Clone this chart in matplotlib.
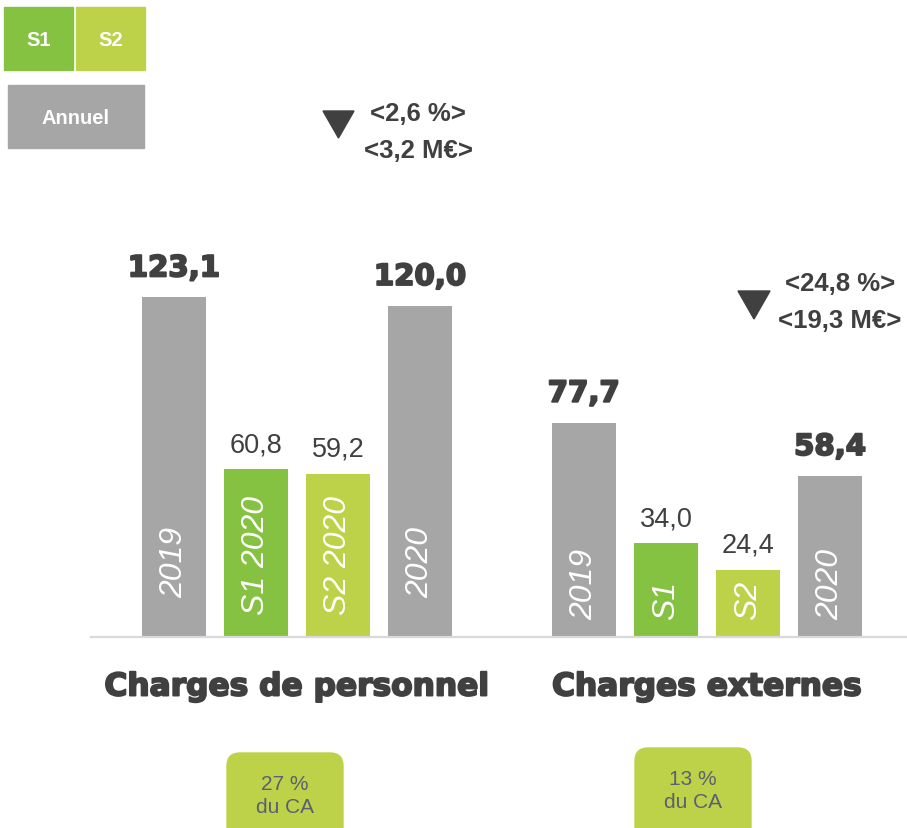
import matplotlib
matplotlib.use('Agg')

import matplotlib.pyplot as plt
import matplotlib.patheffects as pe
from matplotlib.patches import Rectangle, Polygon, FancyBboxPatch

# data
groups = ["Charges de personnel", "Charges externes"]
values_perso = [123.1, 60.8, 59.2, 120.0]
values_ext = [77.7, 34.0, 24.4, 58.4]
bar_names_perso = ["2019", "S1 2020", "S2 2020", "2020"]
bar_names_ext = ["2019", "S1", "S2", "2020"]
bold_value = [True, False, False, True]
var_perso = ["<2,6 %>", "<3,2 M€>"]
var_ext = ["<24,8 %>", "<19,3 M€>"]
share_ca = ["27 %\ndu CA", "13 %\ndu CA"]

GREY = "#a6a6a6"
GREEN1 = "#86c241"
GREEN2 = "#bdd248"
DARK = "#404040"
colors = [GREY, GREEN1, GREEN2, GREY]

W, H = 907, 829
fig = plt.figure(figsize=(W / 100, H / 100), dpi=100)

# main chart, pixel scale ~2.76 px / unit
base_px, top_px = 638, 200
ax = fig.add_axes([91 / W, (H - base_px) / H, (W - 91) / W, (base_px - top_px) / H])
ax.set_ylim(0, (base_px - top_px) / 2.76)
ax.set_xlim(-1.01, 8.94)
for s in ["top", "left", "right"]:
    ax.spines[s].set_visible(False)
ax.spines["bottom"].set_color("#d9d9d9")
ax.spines["bottom"].set_linewidth(1.6)
ax.set_xticks([])
ax.set_yticks([])
ax.patch.set_visible(False)

sans = ["Liberation Sans", "DejaVu Sans"]
heavy = [pe.withStroke(linewidth=1.4, foreground=DARK)]
label_pad = [[40, 23, 23, 40], [18, 18, 18, 18]]  # px from baseline

for g, (vals, names) in enumerate([(values_perso, bar_names_perso), (values_ext, bar_names_ext)]):
    xs = [g * 5 + i for i in range(4)]
    ax.bar(xs, vals, width=0.78, color=colors)
    for i, (x, v, n) in enumerate(zip(xs, vals, names)):
        txt = f"{v:.1f}".replace(".", ",")
        if bold_value[i]:
            ax.annotate(txt, (x, v), xytext=(0, 15), textcoords="offset points",
                        ha="center", va="baseline", fontsize=21, fontweight="bold",
                        color=DARK, family="DejaVu Sans", path_effects=heavy)
        else:
            ax.annotate(txt, (x, v), xytext=(0, 13), textcoords="offset points",
                        ha="center", va="baseline", fontsize=19.5, color=DARK, family=sans)
        ax.text(x, label_pad[g][i] / 2.76, n, rotation=90, ha="center", va="bottom",
                fontsize=23, style="italic", color="white", family=sans)
    ax.text(g * 5 + 1.5, -50 / 2.76, groups[g], ha="center", va="center",
            fontsize=22.5, fontweight="bold", color=DARK,
            family="DejaVu Sans", path_effects=heavy)

# overlay in pixel coords for legend and annotations
ov = fig.add_axes([0, 0, 1, 1])
ov.set_xlim(0, W)
ov.set_ylim(H, 0)
ov.axis("off")
ov.patch.set_visible(False)

# legend boxes
ov.add_patch(Rectangle((4, 8), 69, 63, color=GREEN1))
ov.add_patch(Rectangle((76, 8), 69, 63, color=GREEN2))
ov.add_patch(Rectangle((8, 86), 136, 63, color=GREY))
ov.text(38.5, 40, "S1", ha="center", va="center", color="white", fontsize=14.5,
        fontweight="bold", family=sans)
ov.text(110.5, 40, "S2", ha="center", va="center", color="white", fontsize=14.5,
        fontweight="bold", family=sans)
ov.text(76, 118, "Annuel", ha="center", va="center", color="white", fontsize=14.5,
        fontweight="bold", family=sans)

# variation annotations
ov.add_patch(Polygon([(323, 112), (354, 112), (338.5, 139)], color=DARK))
ov.text(418, 114, var_perso[0], ha="center", va="center", fontsize=18.5,
        fontweight="bold", color=DARK, family=sans)
ov.text(418, 151, var_perso[1], ha="center", va="center", fontsize=18.5,
        fontweight="bold", color=DARK, family=sans)
ov.add_patch(Polygon([(738, 292), (770, 292), (754, 320)], color=DARK))
ov.text(840, 284, var_ext[0], ha="center", va="center", fontsize=18.5,
        fontweight="bold", color=DARK, family=sans)
ov.text(840, 321, var_ext[1], ha="center", va="center", fontsize=18.5,
        fontweight="bold", color=DARK, family=sans)

# share of CA boxes
for (x0, y0), t in zip([(227, 754), (635, 749)], share_ca):
    ov.add_patch(FancyBboxPatch((x0, y0), 116, 100, boxstyle="round,pad=0,rounding_size=13",
                                color=GREEN2, clip_on=True))
    ov.text(x0 + 58, y0 + 42, t, ha="center", va="center", fontsize=15,
            color="#5a6070", family=sans, linespacing=1.25)

fig.savefig("out.png", dpi=100)
